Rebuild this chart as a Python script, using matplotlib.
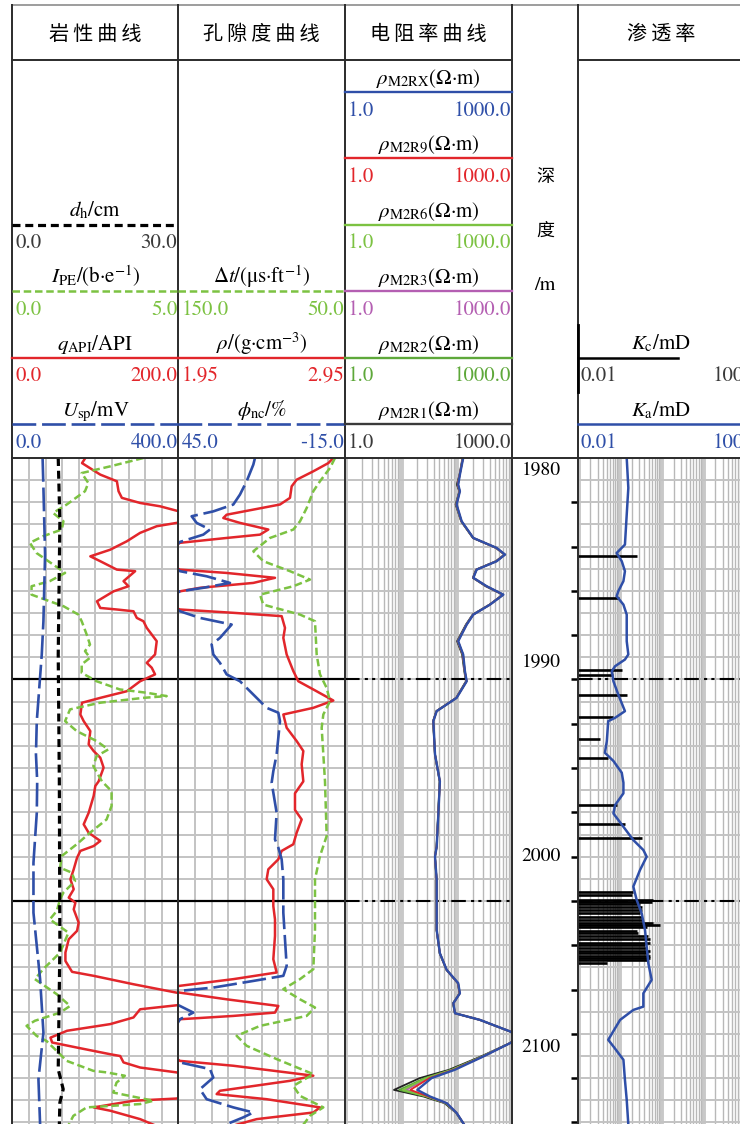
import numpy as np
import matplotlib.pyplot as plt
from matplotlib.ticker import LogLocator, NullFormatter

# ---------------- data (depth in m) ----------------
gr_depth = [1980.0, 1980.23, 1980.75, 1981.05, 1981.5, 1981.8, 1982.03, 1982.18, 1982.38, 1982.65,
            1982.93, 1983.08, 1983.38, 1983.76, 1984.14, 1984.44, 1984.66, 1985.04, 1985.11, 1985.56,
            1985.79, 1986.02, 1986.47, 1986.77, 1986.84, 1986.92, 1987.22, 1987.37, 1987.67, 1988.27,
            1988.87, 1989.25, 1989.47, 1989.77, 1990.08, 1990.53, 1990.83, 1991.05, 1991.58, 1991.88,
            1992.33, 1992.93, 1993.23, 1993.53, 1993.98, 1994.6, 1994.81, 1995.26, 1996.02, 1996.54,
            1996.92, 1997.29, 1997.52, 1997.74, 1998.05, 1998.57, 1999.02, 1999.47, 1999.85, 2000.08,
            2000.38, 2000.98, 2001.35, 2001.73, 2002.33, 2002.71, 2003.2, 2003.38, 2003.76, 2004.14,
            2004.4, 2004.71, 2004.89, 2005.26, 2005.56, 2005.86, 2006.17, 2006.39, 2006.62, 2006.92,
            2007.0, 2007.29, 2007.52, 2007.74, 2008.3, 2008.92, 2009.02, 2009.32, 2009.47, 2009.85,
            2010.1]
gr = [88, 84, 106, 126, 128, 132, 154, 178, 198, 240,
      198, 174, 154, 138, 118, 94, 106, 126, 148, 134,
      140, 122, 102, 106, 126, 146, 150, 158, 162, 174,
      172, 162, 168, 172, 154, 138, 106, 84, 82, 86,
      94, 92, 98, 106, 110, 104, 100, 98, 92, 86,
      92, 106, 98, 82, 78, 74, 70, 74, 68, 76,
      74, 80, 78, 68, 64, 64, 72, 98, 146, 198,
      240, 198, 154, 146, 118, 66, 46, 48, 78, 118,
      130, 134, 154, 198, 240, 198, 146, 98, 118, 154,
      170]

pe_depth = [1980.0, 1980.38, 1980.68, 1981.13, 1981.5, 1982.1, 1982.48, 1982.86, 1983.23, 1983.53,
            1983.83, 1984.29, 1984.81, 1985.19, 1985.56, 1985.79, 1986.17, 1986.47, 1986.69, 1987.07,
            1987.37, 1987.97, 1988.42, 1988.72, 1989.02, 1989.32, 1989.7, 1990.08, 1990.45, 1990.6,
            1990.75, 1990.83, 1991.05, 1991.35, 1991.88, 1992.33, 1992.78, 1993.16, 1993.46, 1993.91,
            1994.6, 1995.04, 1995.71, 1996.32, 1996.92, 1997.44, 1997.97, 1998.5, 1998.72, 1999.1,
            1999.62, 1999.92, 2000.45, 2000.83, 2001.43, 2002.33, 2003.08, 2003.53, 2004.21, 2004.74,
            2005.04, 2005.41, 2005.64, 2006.09, 2006.32, 2007.22, 2007.67, 2007.74, 2007.89, 2008.2,
            2008.65, 2009.02, 2009.17, 2009.32, 2009.7, 2010.1]
pe = [3.95, 2.94, 2.09, 2.29, 2.19, 1.64, 1.23, 1.54, 1.49, 0.93,
      0.53, 0.73, 1.23, 1.59, 1.13, 0.58, 0.58, 1.13, 1.54, 1.99,
      2.09, 2.24, 2.34, 2.19, 2.34, 2.09, 2.09, 2.54, 3.24, 4.05,
      4.65, 3.95, 2.64, 1.74, 1.59, 1.94, 2.54, 2.89, 2.54, 2.44,
      2.70, 2.99, 2.99, 2.84, 2.34, 1.94, 1.49, 1.44, 1.79, 1.89,
      1.54, 1.44, 1.34, 1.13, 1.69, 1.44, 0.93, 0.68, 1.34, 1.74,
      1.44, 0.68, 0.43, 0.73, 1.03, 1.64, 2.44, 2.84, 3.39, 3.14,
      3.04, 4.25, 3.85, 2.24, 1.84, 1.70]

sp_depth = [1980.0, 1981.35, 1984.36, 1987.37, 1988.87, 1990.38, 1991.88, 1993.38, 1994.6, 1996.02,
            1998.27, 2000.53, 2003.53, 2005.94, 2008.05, 2010.1]
sp = [73, 75, 79, 75, 71, 65, 59, 57, 60, 59,
      51, 51, 67, 75, 63, 67]

cal_depth = [1980.0, 1982.86, 1988.87, 1994.6, 2002.0, 2007.6, 2008.5, 2009.1, 2010.1]
cal = [8.3, 8.6, 8.3, 8.5, 8.6, 8.3, 9.2, 8.6, 8.5]

rhob_depth = [1980.0, 1980.23, 1980.6, 1980.98, 1981.28, 1981.8, 1982.1, 1982.33, 1982.56, 1982.71,
              1982.93, 1983.23, 1983.46, 1983.61, 1983.83, 1984.5, 1985.04, 1985.19, 1985.41, 1985.64,
              1985.86, 1986.02, 1986.4, 1986.84, 1986.99, 1987.14, 1987.67, 1988.12, 1988.87, 1989.62,
              1990.08, 1990.45, 1990.95, 1991.28, 1991.58, 1992.18, 1992.78, 1993.23, 1993.83, 1994.6,
              1995.14, 1995.89, 1996.32, 1996.92, 1997.44, 1997.74, 1998.12, 1998.57, 1999.02, 1999.47,
              2000.23, 2000.83, 2001.58, 2002.63, 2003.23, 2003.53, 2003.83, 2003.98, 2004.14, 2004.44,
              2004.74, 2005.04, 2005.19, 2005.34, 2006.4, 2007.22, 2007.44, 2007.89, 2008.12, 2008.57,
              2008.72, 2008.95, 2009.32, 2009.55, 2009.85, 2010.1]
rhob = [2.88, 2.85, 2.76, 2.66, 2.63, 2.62, 2.56, 2.40, 2.24, 2.22,
        2.32, 2.49, 2.44, 2.24, 1.96, 1.80, 1.96, 2.24, 2.53, 2.40,
        2.08, 1.96, 1.80, 1.96, 2.28, 2.57, 2.59, 2.58, 2.60, 2.64,
        2.67, 2.76, 2.88, 2.76, 2.58, 2.60, 2.66, 2.70, 2.69, 2.70,
        2.65, 2.65, 2.69, 2.66, 2.64, 2.57, 2.55, 2.49, 2.48, 2.52,
        2.52, 2.53, 2.53, 2.52, 2.54, 2.28, 1.96, 1.85, 1.96, 2.24,
        2.55, 2.53, 2.28, 1.96, 1.80, 1.96, 2.28, 2.76, 2.62, 2.20,
        2.18, 2.48, 2.80, 2.76, 2.42, 2.30]

nphi_depth = [1980.0, 1980.3, 1981.05, 1981.65, 1982.1, 1982.41, 1982.63, 1982.93, 1983.23, 1983.46,
              1983.79, 1984.5, 1985.11, 1985.34, 1985.64, 1985.86, 1986.02, 1986.4, 1986.92, 1987.22,
              1987.52, 1988.12, 1988.42, 1988.87, 1989.25, 1989.77, 1990.08, 1990.68, 1991.28, 1991.5,
              1991.88, 1992.63, 1993.38, 1994.14, 1994.66, 1995.11, 1996.02, 1997.22, 1997.59, 1998.12,
              1999.02, 2000.53, 2001.73, 2002.93, 2003.38, 2003.61, 2003.91, 2004.06, 2004.4, 2004.74,
              2005.04, 2005.34, 2006.5, 2007.29, 2007.59, 2007.97, 2008.5, 2008.95, 2009.32, 2009.55,
              2009.77, 2010.1]
nphi = [17.4, 18, 20.4, 22.8, 25.2, 32.4, 40.2, 38.4, 33.6, 36,
        44.4, 50, 44.4, 34.8, 26.4, 36, 44.4, 50, 44.4, 37.2,
        25.8, 30, 33, 32.4, 30, 27.6, 22.8, 18, 13.2, 9,
        8.4, 9, 9.6, 10.8, 11.4, 10.8, 9.6, 10.2, 9, 7.8,
        7.2, 7.2, 6.6, 6, 7.2, 18, 32.4, 44.4, 50, 44.4,
        39.6, 44.4, 50, 44.4, 33.6, 32.4, 37.2, 34.8, 25.2, 18,
        21.6, 28]

dt_depth = [1980.0, 1980.45, 1981.05, 1981.5, 1982.26, 1982.86, 1983.23, 1983.61, 1984.21, 1984.66,
            1985.11, 1985.49, 1985.79, 1986.17, 1986.62, 1987.07, 1987.37, 1988.87, 1989.77, 1990.38,
            1990.98, 1991.58, 1992.18, 1993.38, 1994.6, 1997.07, 1997.97, 1999.02, 2001.28, 2003.08,
            2003.53, 2003.98, 2004.44, 2004.81, 2005.19, 2005.64, 2006.09, 2006.54, 2007.14, 2007.82,
            2008.35, 2008.8, 2009.32, 2009.7, 2010.1]
dt = [56, 59, 65, 69, 73, 77, 81, 95, 105, 99,
      83, 71, 81, 101, 99, 77, 68, 67, 65, 61,
      59, 63, 64, 63, 62, 61, 65, 68, 68, 69,
      77, 87, 77, 68, 73, 101, 115, 109, 91, 69,
      81, 77, 63, 71, 75]

res_depth = [1980.0, 1980.75, 1981.2, 1981.5, 1982.1, 1982.86, 1983.61, 1984.06, 1984.36, 1984.66,
             1985.04, 1985.41, 1985.79, 1986.17, 1986.62, 1987.07, 1987.52, 1988.27, 1988.87, 1989.62,
             1990.08, 1990.83, 1991.43, 1991.88, 1993.38, 1994.6, 1996.05, 1997.55, 1998.0, 1999.05,
             2001.31, 2002.36, 2003.11, 2003.71, 2004.17, 2004.62, 2005.07, 2005.37, 2005.89, 2006.15,
             2006.42, 2007.02, 2007.62, 2008.0, 2008.53, 2008.83, 2009.13, 2009.57, 2010.1]
r_m2rx = [134, 117, 109, 117, 102, 126, 204, 537, 759, 537,
          234, 204, 355, 708, 407, 204, 155, 109, 134, 144,
          155, 102, 44.7, 38.9, 41.7, 51, 47.9, 44.7, 41.7, 44.7,
          44.7, 51, 67.6, 109, 117, 89, 95.5, 269, 933, 1400,
          933, 309, 95, 36, 20, 34, 68, 102, 140]
r_m2r9 = [133, 116, 107, 116, 101, 125, 203, 530, 750, 530,
          232, 203, 350, 700, 405, 203, 154, 108, 132, 143,
          154, 101, 44.5, 38.8, 41.6, 51, 47.8, 44.6, 41.6, 44.6,
          44.6, 51, 67.4, 108, 116, 89, 95.3, 268, 930, 1400,
          930, 305, 90, 33, 15, 32, 67, 102, 140]
r_m2r6 = [133, 116, 108, 116, 101, 125, 203, 532, 752, 532,
          233, 203, 352, 702, 405, 203, 154, 108, 133, 143,
          154, 101, 44.5, 38.8, 41.6, 51, 47.8, 44.6, 41.6, 44.6,
          44.6, 51, 67.4, 108, 116, 89, 95.3, 268, 930, 1400,
          930, 300, 85, 29, 11, 30, 66, 101, 140]
r_m2r3 = [133, 116, 108, 116, 101, 125, 203, 532, 752, 532,
          233, 203, 352, 702, 405, 203, 154, 108, 133, 143,
          154, 101, 44.5, 38.8, 41.6, 51, 47.8, 44.6, 41.6, 44.6,
          44.6, 51, 67.4, 108, 116, 89, 95.3, 268, 930, 1400,
          930, 302, 88, 31, 12.5, 31, 66, 101, 140]
r_m2r2 = [132, 116, 106, 115, 100, 124, 202, 528, 748, 528,
          231, 202, 348, 698, 404, 202, 153, 107, 131, 142,
          153, 101, 44.3, 38.7, 41.6, 50.8, 47.7, 44.5, 41.5, 44.5,
          44.5, 50.8, 67.2, 108, 116, 88, 95.2, 267, 928, 1400,
          928, 292, 82, 27, 9.5, 29, 64, 101, 139]
r_m2r1 = [130, 115, 103, 114, 98, 123, 200, 520, 740, 520,
          228, 200, 340, 690, 400, 198, 150, 104, 128, 140,
          150, 100, 44, 38.5, 41.5, 50.5, 47.5, 44.5, 41.5, 44.5,
          44.5, 50.5, 67, 107, 115, 88, 95, 265, 925, 1400,
          925, 280, 75, 22, 7.6, 26, 62, 100, 138]

ka_depth = [1980.0, 1981.35, 1982.56, 1983.91, 1984.29, 1984.66, 1985.11, 1985.56, 1986.02, 1986.24,
            1986.62, 1987.07, 1988.27, 1988.87, 1989.1, 1989.4, 1989.62, 1990.08, 1990.68, 1991.43,
            1991.73, 1991.88, 1992.78, 1993.31, 1993.68, 1994.21, 1994.66, 1995.14, 1995.67, 1996.05,
            1996.65, 1997.25, 1997.7, 1998.0, 1998.6, 1999.35, 1999.95, 2000.56, 2001.31, 2002.06,
            2002.81, 2003.56, 2004.17, 2004.77, 2004.92, 2005.37, 2006.27, 2006.57, 2007.17, 2008.08,
            2008.98, 2010.1]
ka = [0.15, 0.164, 0.15, 0.136, 0.086, 0.114, 0.136, 0.125, 0.094, 0.086,
      0.125, 0.15, 0.15, 0.164, 0.136, 0.079, 0.066, 0.072, 0.094, 0.136,
      0.079, 0.054, 0.050, 0.045, 0.072, 0.114, 0.125, 0.125, 0.079, 0.072,
      0.125, 0.216, 0.376, 0.452, 0.313, 0.216, 0.26, 0.343, 0.412, 0.452,
      0.495, 0.596, 0.376, 0.376, 0.216, 0.104, 0.054, 0.072, 0.125, 0.136,
      0.15, 0.164]

kc_depth = [1984.41, 1986.32, 1989.55, 1989.8, 1990.71, 1991.7, 1992.68, 1993.56, 1995.67, 1996.54,
            1997.14, 1999.58, 1999.73, 1999.95, 2000.03, 2000.14, 2000.26, 2000.41, 2000.56, 2000.71,
            2000.86, 2001.01, 2001.08, 2001.16, 2001.34, 2001.46, 2001.58, 2001.73, 2001.88, 2001.98,
            2002.14, 2002.24, 2002.36, 2002.48, 2002.59, 2002.66, 2002.78]
kc = [0.26, 0.10, 0.114, 0.072, 0.15, 0.072, 0.034, 0.054, 0.086, 0.136,
      0.343, 0.216, 0.197, 0.653, 0.596, 0.313, 0.343, 0.343, 0.313, 0.343,
      0.376, 0.653, 0.944, 0.452, 0.26, 0.285, 0.495, 0.543, 0.543, 0.412,
      0.452, 0.543, 0.495, 0.543, 0.543, 0.495, 0.050]

depth_label_pos = [1980.55, 1989.25, 1997.97, 2006.6]
depth_labels = ['1980', '1990', '2000', '2100']

titles = ['岩性曲线', '孔隙度曲线', '电阻率曲线', '渗透率']

# ---------------- layout ----------------
W, H = 740, 1124
TOP = 458
D0, D1 = 1980.0, 2010.07
XS = [12.3, 178.3, 345.0, 511.7, 577.7, 744.4]

BLUE = '#2f4fa8'
RED = '#e2262b'
GREEN = '#7cc242'
PURPLE = '#b45fb2'
DGREEN = '#5ea83a'
DARK = '#3a3a3a'
GRID = '#c3c3c3'

SOLID = '-'
DASH_B = (0, (9, 2.2))
DOT_G = (0, (3, 1.5))
DASH_K = (0, (2.5, 1.5))
DASH_DOT = (0, (7, 2.5, 1.5, 2, 1.5, 2.5))

plt.rcParams['font.family'] = ['STIXGeneral', 'DejaVu Sans']
plt.rcParams['mathtext.fontset'] = 'stix'
CJK = ['Noto Sans CJK SC', 'DejaVu Sans']

fig = plt.figure(figsize=(W / 100, H / 100), dpi=100)


def track(x0, x1):
    ax = fig.add_axes([x0 / W, 0, (x1 - x0) / W, (H - TOP) / H])
    ax.set_ylim(D1, D0)
    for s in ax.spines.values():
        s.set_visible(False)
    ax.tick_params(which='both', length=0, labelbottom=False, labelleft=False)
    return ax


def twin(ax, xlim):
    a = fig.add_axes(ax.get_position().bounds)
    a.set_xlim(xlim)
    a.set_ylim(ax.get_ylim())
    a.axis('off')
    return a


def lin_grid(ax, lo, hi):
    ax.set_xlim(lo, hi)
    ax.set_xticks(np.linspace(lo, hi, 11))
    ax.set_yticks(np.arange(1980, 2011, 1))
    ax.grid(color=GRID, lw=1.4)
    ax.tick_params(length=0, labelbottom=False, labelleft=False)


def log_grid(ax, lo, hi):
    ax.set_xscale('log')
    ax.set_xlim(lo, hi)
    ax.xaxis.set_major_locator(LogLocator(base=10, numticks=12))
    ax.xaxis.set_minor_locator(LogLocator(base=10, subs=np.arange(2, 10), numticks=12))
    ax.xaxis.set_minor_formatter(NullFormatter())
    ax.set_yticks(np.arange(1980, 2011, 1))
    ax.grid(axis='x', which='major', color='#c8c8c8', lw=3.5)
    ax.grid(axis='x', which='minor', color='#b8b8b8', lw=1.0)
    ax.grid(axis='y', which='major', color=GRID, lw=1.4)
    ax.tick_params(which='both', length=0, labelbottom=False, labelleft=False)


# track 1: lithology curves
ax1 = track(XS[0], XS[1])
lin_grid(ax1, 0, 200)
for d in (1990, 2000):
    ax1.axhline(d, color='k', lw=1.6)
ax1.plot(gr, gr_depth, color=RED, lw=1.8)
twin(ax1, (0, 5)).plot(pe, pe_depth, color=GREEN, lw=1.8, ls=DOT_G)
twin(ax1, (0, 400)).plot(sp, sp_depth, color=BLUE, lw=1.9, ls=DASH_B)
twin(ax1, (0, 30)).plot(cal, cal_depth, color='k', lw=2.3, ls=DASH_K)

# track 2: porosity curves
ax2 = track(XS[1], XS[2])
lin_grid(ax2, 1.95, 2.95)
for d in (1990, 2000):
    ax2.axhline(d, color='k', lw=1.6)
ax2.plot(rhob, rhob_depth, color=RED, lw=1.8)
twin(ax2, (150, 50)).plot(dt, dt_depth, color=GREEN, lw=1.8, ls=DOT_G)
twin(ax2, (45, -15)).plot(nphi, nphi_depth, color=BLUE, lw=1.9, ls=DASH_B)

# track 3: resistivity
ax3 = track(XS[2], XS[3])
log_grid(ax3, 1, 1000)
for d in (1990, 2000):
    ax3.axhline(d, color='k', lw=1.5, ls=DASH_DOT)
for vals, c in [(r_m2r1, '#222222'), (r_m2r2, DGREEN), (r_m2r3, PURPLE),
                (r_m2r6, GREEN), (r_m2r9, RED), (r_m2rx, BLUE)]:
    ax3.plot(vals, res_depth, color=c, lw=1.3 if c != BLUE else 1.7)

# depth track
ax4 = track(XS[3], XS[4])
ax4.set_xlim(0, 1)
ax4.axis('off')
ax4.hlines(np.arange(1982, 2011, 2), 0.9, 1.0, color='k', lw=1.8)
for p, s in zip(depth_label_pos, depth_labels):
    ax4.text(0.74, p, s, ha='right', va='center', fontsize=14)

# track 5: permeability
ax5 = track(XS[4], XS[5])
log_grid(ax5, 0.01, 100)
for d in (1990, 2000):
    ax5.axhline(d, color='k', lw=1.5, ls=DASH_DOT)
ax5.hlines(kc_depth, 0.01, kc, color='k', lw=1.9)
ax5.plot(ka, ka_depth, color=BLUE, lw=1.8)

# ---------------- frame + header ----------------
ov = fig.add_axes([0, 0, 1, 1])
ov.set_xlim(0, W)
ov.set_ylim(H, 0)
ov.axis('off')

ov.plot([XS[0], W], [5, 5], color='#8c8c8c', lw=1.2)
for x in XS[:5]:
    ov.plot([x, x], [5, H], color='#2b2b2b', lw=1.4)
ov.plot([XS[0], XS[3]], [60, 60], color='#2b2b2b', lw=1.4)
ov.plot([XS[4], W], [60, 60], color='#2b2b2b', lw=1.4)
ov.plot([XS[0], W], [TOP, TOP], color='#2b2b2b', lw=1.4)

for i, t in enumerate(titles):
    i5 = 4 if i == 3 else i
    cx = (XS[i5] + XS[i5 + 1]) / 2
    ov.text(cx, 35, '\u2009'.join(t), ha='center', va='center', fontsize=14.5, family=CJK)

for y, s in [(177, '深'), (231, '度')]:
    ov.text(545, y, s, ha='center', va='center', fontsize=13, family=CJK)
ov.text(545, 285, '/m', ha='center', va='center', fontsize=14.5)


def entry(i, y, label, lo, hi, color, ls, lw=1.7, tcolor=None, x1=None):
    xa, xb = XS[i], XS[i + 1]
    ov.plot([xa, xb if x1 is None else x1], [y, y], color=color, ls=ls, lw=lw)
    ov.text((xa + xb) / 2, y - 8, label, ha='center', va='baseline', fontsize=15)
    tc = tcolor or color
    ov.text(xa + 3, y + 23.5, lo, ha='left', va='baseline', fontsize=15, color=tc)
    ov.text(xb - 1, y + 23.5, hi, ha='right', va='baseline', fontsize=15, color=tc)


ys = [92, 158.4, 224.8, 291.2, 357.6, 424]
entry(0, ys[2], r'$d_\mathrm{h}$/cm', '0.0', '30.0', 'k', DASH_K, lw=2.3, tcolor=DARK)
entry(0, ys[3], r'$I_\mathrm{PE}$/(b·e$^{-1}$)', '0.0', '5.0', GREEN, DOT_G, lw=1.8)
entry(0, ys[4], r'$q_\mathrm{API}$/API', '0.0', '200.0', RED, SOLID)
entry(0, ys[5], r'$U_\mathrm{sp}$/mV', '0.0', '400.0', BLUE, DASH_B, lw=1.9)
entry(1, ys[3], r'Δ$t$/(μs·ft$^{-1}$)', '150.0', '50.0', GREEN, DOT_G, lw=1.8)
entry(1, ys[4], r'$\rho$/(g·cm$^{-3}$)', '1.95', '2.95', RED, SOLID)
entry(1, ys[5], r'$\phi_\mathrm{nc}$/%', '45.0', '-15.0', BLUE, DASH_B, lw=1.9)
res_entries = [('M2RX', BLUE, BLUE), ('M2R9', RED, RED), ('M2R6', GREEN, GREEN),
               ('M2R3', PURPLE, PURPLE), ('M2R2', DGREEN, DGREEN), ('M2R1', DARK, DARK)]
for y, (nm, c, tc) in zip(ys, res_entries):
    entry(2, y, r'$\rho_\mathrm{%s}$(Ω·m)' % nm, '1.0', '1000.0', c, SOLID, tcolor=tc)
entry(4, ys[4], r'$K_\mathrm{c}$/mD', '0.01', '100', 'k', SOLID, lw=1.8, tcolor=DARK, x1=678)
ov.plot([XS[4], XS[4]], [325, 392], color='k', lw=2.0)
entry(4, ys[5], r'$K_\mathrm{a}$/mD', '0.01', '100', BLUE, SOLID, lw=1.8)

fig.savefig('out.png', dpi=100)
